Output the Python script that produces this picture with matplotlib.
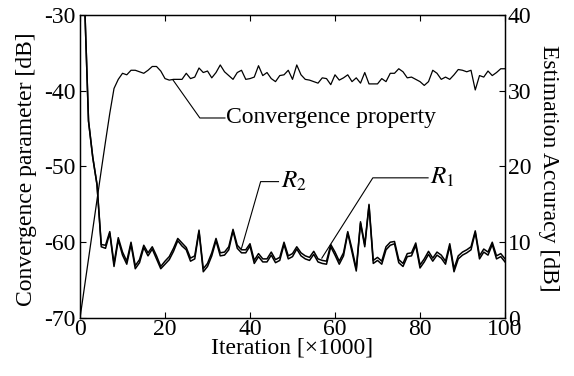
import numpy as np
import matplotlib
matplotlib.use('Agg')
import matplotlib.pyplot as plt

plt.rcParams['font.family'] = ['Liberation Serif', 'DejaVu Serif']
plt.rcParams['mathtext.fontset'] = 'stix'
plt.rcParams['axes.unicode_minus'] = False
plt.rcParams['font.size'] = 17

# Dades llegides de la figura (iteracio en milers)
iterations = list(range(0, 101))

r1 = [-10, -27, -44, -48.8, -52.4, -60.6, -60.8, -58.8, -63.2, -59.7,
      -61.7, -62.9, -60.3, -63.5, -62.7, -60.7, -61.8, -60.9, -62.2, -63.5,
      -62.9, -62.3, -61.2, -59.8, -60.5, -61.0, -62.5, -62.2, -58.6, -63.9,
      -63.2, -61.8, -59.8, -61.8, -61.7, -61.0, -58.5, -60.8, -61.4, -61.4,
      -60.5, -62.8, -61.9, -62.6, -62.6, -61.7, -62.7, -62.4, -60.3, -62.2,
      -61.9, -60.9, -61.8, -62.2, -62.4, -61.6, -62.6, -62.8, -62.9, -60.6,
      -61.7, -62.9, -61.8, -58.8, -61.3, -63.8, -57.5, -60.6, -55.2, -62.8,
      -62.4, -62.9, -61.0, -60.4, -60.2, -62.7, -63.2, -61.9, -61.8, -60.4,
      -63.4, -62.6, -61.6, -62.5, -61.7, -62.1, -62.9, -60.5, -63.9, -62.2,
      -61.7, -61.4, -61.0, -58.7, -62.2, -61.3, -61.7, -60.3, -62.2, -61.9,
      -62.6]

r2 = [-10, -27, -44, -48.8, -52.4, -60.3, -60.4, -58.6, -62.8, -59.4,
      -61.3, -62.5, -60.0, -63.1, -62.3, -60.4, -61.4, -60.6, -61.8, -63.2,
      -62.5, -61.9, -60.8, -59.5, -60.1, -60.7, -62.1, -61.8, -58.4, -63.5,
      -62.8, -61.4, -59.5, -61.4, -61.3, -60.6, -58.3, -60.4, -61.0, -61.0,
      -60.2, -62.4, -61.5, -62.2, -62.2, -61.3, -62.3, -62.0, -60.0, -61.8,
      -61.5, -60.6, -61.4, -61.8, -62.0, -61.2, -62.2, -62.4, -62.5, -60.3,
      -61.3, -62.5, -61.4, -58.6, -60.9, -63.5, -57.3, -60.3, -55.0, -62.4,
      -62.0, -62.5, -60.6, -60.0, -59.9, -62.3, -62.8, -61.5, -61.4, -60.1,
      -63.0, -62.2, -61.2, -62.1, -61.3, -61.7, -62.5, -60.2, -63.5, -61.8,
      -61.3, -61.0, -60.6, -58.5, -61.8, -60.9, -61.3, -60.0, -61.8, -61.5,
      -62.2]

convergence = [0, 3.9, 7.8, 11.7, 15.6, 19.5, 23.3, 27.0, 30.3, 31.5,
               32.3, 32.1, 32.7, 32.7, 32.5, 32.3, 32.7, 33.2, 33.2, 32.6,
               31.6, 31.4, 31.5, 31.5, 31.5, 32.3, 31.6, 31.8, 33.0, 32.4,
               32.6, 31.7, 32.4, 33.4, 32.5, 32.0, 31.5, 32.4, 32.7, 31.5,
               31.6, 31.8, 33.3, 32.0, 32.4, 31.6, 31.2, 32.0, 32.1, 32.7,
               31.5, 33.4, 32.1, 31.5, 31.4, 31.2, 31.0, 31.7, 31.6, 30.8,
               32.1, 31.4, 31.7, 32.1, 31.2, 31.7, 31.0, 32.4, 30.9, 30.9,
               30.9, 31.6, 31.2, 32.3, 32.3, 32.9, 32.5, 31.7, 31.8, 31.5,
               31.2, 30.7, 31.2, 32.7, 32.3, 31.5, 31.8, 31.5, 32.1, 32.8,
               32.7, 32.5, 32.7, 30.1, 32.0, 31.8, 32.6, 32.0, 32.4, 32.9,
               32.9]

left_ticks = [-70, -60, -50, -40, -30]
right_ticks = [0, 10, 20, 30, 40]
x_ticks = [0, 20, 40, 60, 80, 100]

fig = plt.figure(figsize=(5.74, 3.76), dpi=100)
ax1 = fig.add_axes([0.1394, 0.1543, 0.7404, 0.8059])
ax2 = ax1.twinx()

ax1.plot(iterations, r1, color='black', lw=1.1)
ax1.plot(iterations, r2, color='black', lw=1.1)
ax2.plot(iterations, convergence, color='black', lw=0.9)

ax1.set_xlim(0, 100)
ax1.set_ylim(-70, -30)
ax2.set_ylim(0, 40)
ax1.set_xticks(x_ticks)
ax1.set_yticks(left_ticks)
ax2.set_yticks(right_ticks)

ax1.tick_params(axis='x', direction='in', top=True, length=4, pad=1, labelsize=17)
ax1.tick_params(axis='y', direction='in', length=4, pad=3, labelsize=17)
ax2.tick_params(axis='y', direction='in', length=4, pad=2, labelsize=17)
for ax in (ax1, ax2):
    for s in ax.spines.values():
        s.set_linewidth(0.9)

ax1.set_xlabel('Iteration [×1000]', fontsize=17, va='center', ha='center')
ax1.xaxis.set_label_coords(0.5, -0.098)
ax1.set_ylabel('Convergence parameter [dB]', fontsize=17, va='center', ha='center',
               rotation=90, rotation_mode='anchor')
ax1.yaxis.set_label_coords(-0.125, 0.49)
ax2.set_ylabel('Estimation Accuracy [dB]', fontsize=17, va='center', ha='center',
               rotation=270, rotation_mode='anchor')
ax2.yaxis.set_label_coords(1.103, 0.495)

# Etiquetes amb linies guia
ax2.plot([21.9, 28.2, 34.1], [31.4, 26.4, 26.4], color='black', lw=0.8)
ax2.text(34.4, 26.4, 'Convergence property', fontsize=17, va='center', ha='left')

ax1.plot([38.0, 42.5, 46.7], [-60.8, -52.0, -52.0], color='black', lw=0.8)
ax1.text(47.2, -52.0, r'$R_2$', fontsize=18, va='center', ha='left')

ax1.plot([56.9, 68.9, 81.9], [-62.1, -51.5, -51.5], color='black', lw=0.8)
ax1.text(82.4, -51.5, r'$R_1$', fontsize=18, va='center', ha='left')

plt.savefig('out.png', dpi=100, facecolor='white')
